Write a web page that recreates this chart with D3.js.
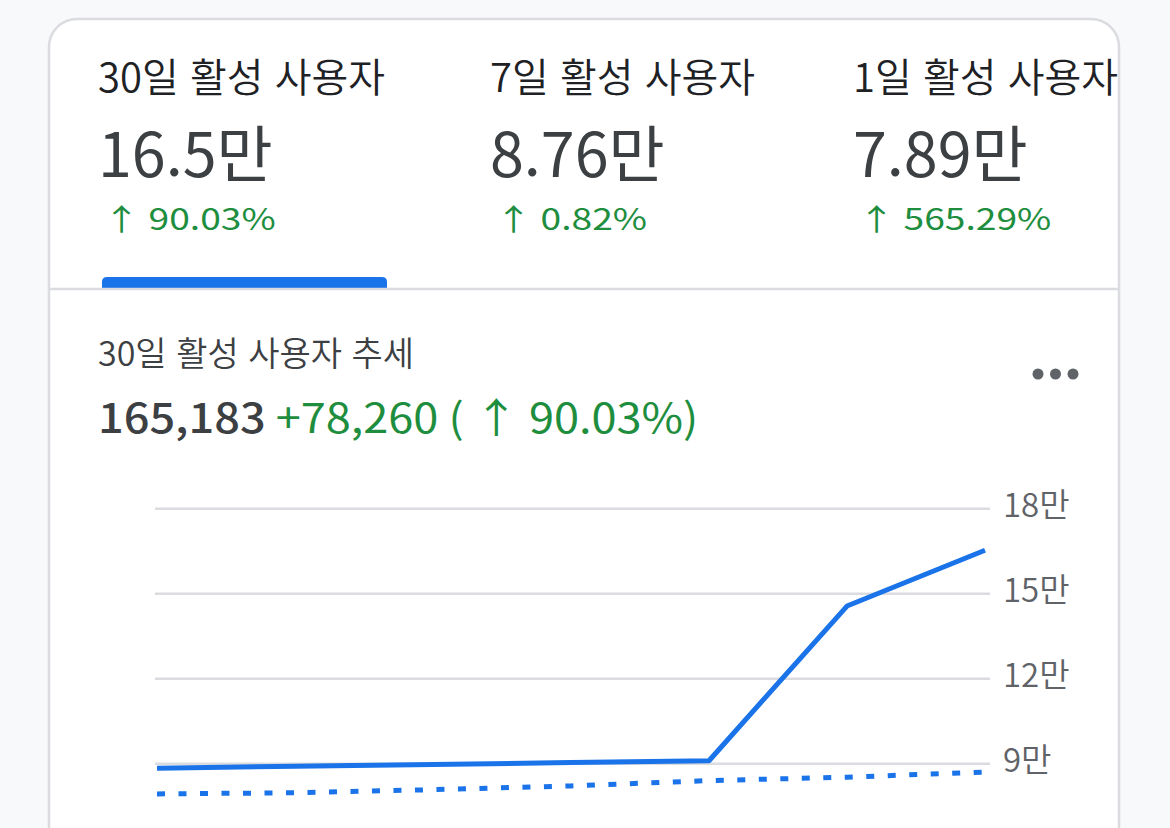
<!DOCTYPE html>
<html lang="ko">
<head>
<meta charset="UTF-8">
<title>30일 활성 사용자</title>
<script src="https://d3js.org/d3.v7.min.js"></script>
<style>
  html, body { margin: 0; padding: 0; background: #f8f9fa; }
  svg { display: block; font-family: "Noto Sans CJK KR", "Noto Sans", sans-serif; }
</style>
</head>
<body>
<div id="chart"></div>
<script>
  // 상단 탭
  const tabTitles = ['30일 활성 사용자', '7일 활성 사용자', '1일 활성 사용자'];
  const tabValues = ['16.5만', '8.76만', '7.89만'];
  const tabChanges = ['90.03%', '0.82%', '565.29%'];

  // 추세 요약
  const trendTitle = '30일 활성 사용자 추세';
  const totalValue = '165,183';
  const totalDelta = '+78,260 ( \u2191 90.03%)';

  // 일별 데이터 (현재 기간 / 이전 기간)
  const days = [0, 1, 2, 3, 4, 5, 6];
  const current = [88250, 88950, 89600, 90250, 90900, 145500, 165183];
  const previous = [79200, 79600, 80700, 82000, 83900, 85100, 86923];
  const yTicks = [90000, 120000, 150000, 180000];

  const width = 1170;
  const height = 828;
  const blue = '#1a73e8';
  const green = '#1e8e3e';
  const grid = '#dadce0';

  const svg = d3.select('#chart')
    .append('svg')
    .attr('width', width)
    .attr('height', height);

  svg.append('rect')
    .attr('width', width)
    .attr('height', height)
    .attr('fill', '#f8f9fa');

  // 카드
  svg.append('rect')
    .attr('x', 49)
    .attr('y', 19)
    .attr('width', 1070)
    .attr('height', 900)
    .attr('rx', 28)
    .attr('fill', '#fff')
    .attr('stroke', grid)
    .attr('stroke-width', 2.5);

  const tabX = [98, 490, 853];

  const tabs = svg.append('g')
    .selectAll('g')
    .data(tabTitles)
    .join('g')
    .attr('transform', (d, i) => `translate(${tabX[i]},0)`);

  tabs.append('text')
    .attr('y', 92)
    .attr('font-size', 40)
    .attr('font-weight', 350)
    .attr('fill', '#202124')
    .text(d => d);

  tabs.append('text')
    .attr('y', 177)
    .attr('font-size', 61)
    .attr('fill', '#3c4043')
    .text((d, i) => tabValues[i]);

  // 변화율은 글자가 넓은 편이라 가로로 조금 늘림
  tabs.append('text')
    .attr('transform', 'translate(5,230) scale(1.24,1)')
    .attr('font-size', 30)
    .attr('fill', green)
    .text((d, i) => '\u2191 ' + tabChanges[i]);

  // 선택된 탭 표시
  svg.append('path')
    .attr('d', 'M102,288 V282 Q102,277 107,277 H382 Q387,277 387,282 V288 Z')
    .attr('fill', blue);

  svg.append('line')
    .attr('x1', 49).attr('x2', 1119)
    .attr('y1', 289).attr('y2', 289)
    .attr('stroke', grid)
    .attr('stroke-width', 2.5);

  svg.append('text')
    .attr('x', 98)
    .attr('y', 366)
    .attr('font-size', 34)
    .attr('font-weight', 350)
    .attr('fill', '#3c4043')
    .text(trendTitle);

  const summary = svg.append('text')
    .attr('transform', 'translate(98,433) scale(1.1,1)')
    .attr('font-size', 41);

  summary.append('tspan')
    .attr('fill', '#3c4043')
    .attr('font-weight', 500)
    .text(totalValue);

  summary.append('tspan')
    .attr('fill', green)
    .text(' ' + totalDelta);

  // 더보기 아이콘
  svg.append('g')
    .selectAll('circle')
    .data([1038, 1055.5, 1073])
    .join('circle')
    .attr('cx', d => d)
    .attr('cy', 374)
    .attr('r', 5.5)
    .attr('fill', '#5f6368');

  // 차트
  const x = d3.scaleLinear()
    .domain(d3.extent(days))
    .range([157, 985]);

  const y = d3.scaleLinear()
    .domain([90000, 180000])
    .range([763.3, 508.3]);

  const yAxis = d3.axisRight(y)
    .tickValues(yTicks)
    .tickSize(-835)
    .tickPadding(13)
    .tickFormat(d => (d / 10000) + '만');

  const axisG = svg.append('g')
    .attr('transform', 'translate(990,0)')
    .call(yAxis);

  axisG.select('.domain').remove();
  axisG.selectAll('.tick line')
    .attr('stroke', grid)
    .attr('stroke-width', 2.5);
  axisG.selectAll('.tick text')
    .attr('font-family', '"Noto Sans CJK KR", sans-serif')
    .attr('font-size', 33)
    .attr('font-weight', 350)
    .attr('fill', '#5f6368')
    .attr('dy', '0.25em');

  const line = d3.line()
    .x((d, i) => x(days[i]))
    .y(d => y(d));

  svg.append('path')
    .datum(previous)
    .attr('d', line)
    .attr('fill', 'none')
    .attr('stroke', blue)
    .attr('stroke-width', 5)
    .attr('stroke-dasharray', '8,13.5');

  svg.append('path')
    .datum(current)
    .attr('d', line)
    .attr('fill', 'none')
    .attr('stroke', blue)
    .attr('stroke-width', 5)
    .attr('stroke-linejoin', 'round');
</script>
</body>
</html>
